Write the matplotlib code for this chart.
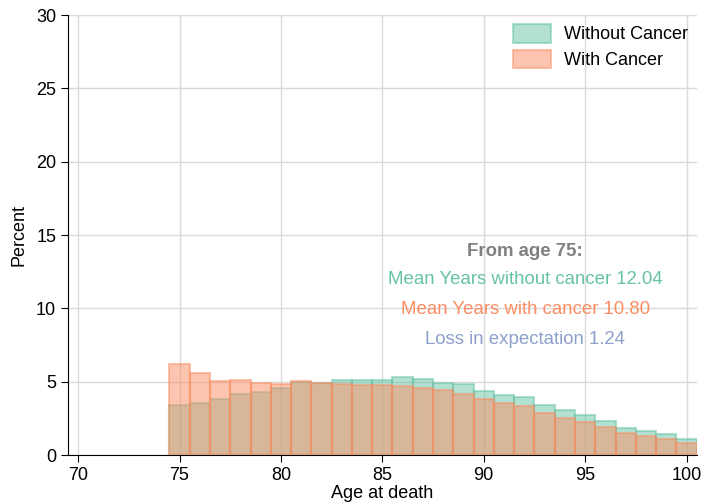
import numpy as np
from matplotlib import pyplot as plt

plt.rcParams['font.family'] = ['Liberation Sans', 'DejaVu Sans']

ages = list(range(75, 101))
without_cancer = [3.39, 3.57, 3.80, 4.18, 4.30, 4.59, 5.00, 4.93, 5.09, 5.09, 5.11, 5.32, 5.16,
                  4.95, 4.82, 4.36, 4.07, 3.93, 3.39, 3.09, 2.73, 2.30, 1.84, 1.64, 1.41, 1.07]
with_cancer = [6.20, 5.61, 5.02, 5.09, 4.91, 4.82, 5.02, 4.91, 4.86, 4.77, 4.79, 4.73, 4.60,
               4.43, 4.20, 3.80, 3.52, 3.34, 2.84, 2.54, 2.25, 1.95, 1.52, 1.30, 1.09, 0.80]

green = '#66c2a5'
orange = '#fc8d62'
blue = '#8da0cb'

fig = plt.figure(figsize=(7.04, 5.04), dpi=100)
ax = fig.add_axes([0.0966, 0.097, 0.893, 0.873])

ax.bar(ages, without_cancer, width=1, color=green, alpha=0.5, edgecolor=green,
       linewidth=1.5, label='Without Cancer', zorder=2)
ax.bar(ages, with_cancer, width=1, color=orange, alpha=0.5, edgecolor=orange,
       linewidth=1.5, label='With Cancer', zorder=3)

ax.set_xlim(69.5, 100.5)
ax.set_ylim(0, 30)
ax.set_xticks(np.arange(70, 101, 5))
ax.set_yticks(np.arange(0, 31, 5))
ax.grid(True, color='#dadada', linewidth=1, zorder=0)
ax.set_axisbelow(True)
for s in ['top', 'right']:
    ax.spines[s].set_visible(False)
ax.tick_params(labelsize=13, length=5, direction='out')
ax.set_xlabel('Age at death', fontsize=13, labelpad=1)
ax.set_ylabel('Percent', fontsize=13, labelpad=6)

fs = 13.4
ax.text(92.05, 13.9, 'From age 75:', color='gray', fontweight='bold', fontsize=fs, ha='center', va='center')
ax.text(92.05, 12.0, 'Mean Years without cancer 12.04', color=green, fontsize=fs, ha='center', va='center')
ax.text(92.05, 9.95, 'Mean Years with cancer 10.80', color=orange, fontsize=fs, ha='center', va='center')
ax.text(92.05, 7.9, 'Loss in expectation 1.24', color=blue, fontsize=fs, ha='center', va='center')

ax.legend(loc='upper right', frameon=False, fontsize=13, borderaxespad=0.1,
          handlelength=2.1, handleheight=1.2, handletextpad=0.7, labelspacing=0.35)

fig.savefig('out.png', dpi=100)
